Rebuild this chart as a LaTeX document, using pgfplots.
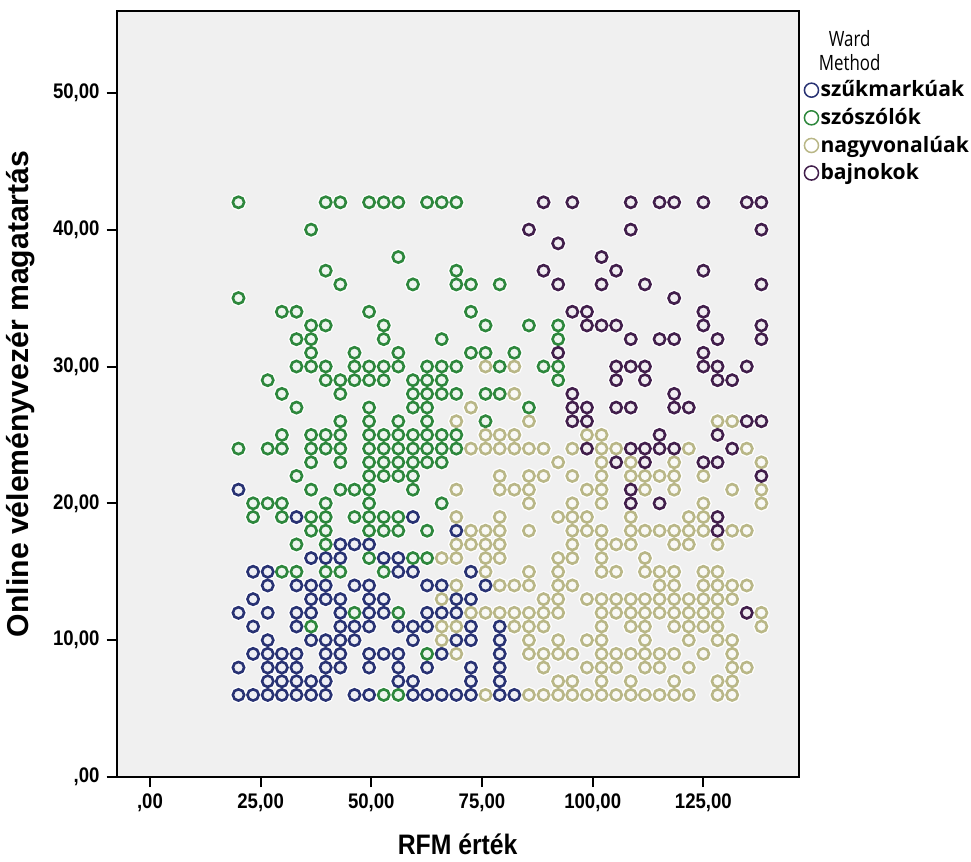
\documentclass[border=0pt]{standalone}
\usepackage{fontspec}
\setmainfont{Liberation Sans}
\newfontfamily\axfont{Liberation Sans}[FakeStretch=0.88]
\newfontfamily\legfont{Open Sans}
\newfontfamily\titfont{Open Sans}[FakeStretch=0.8]
\usepackage{pgfplots}
\usepackage{pgfplotstable}
\pgfplotsset{compat=1.18}

\definecolor{cNavy}{RGB}{40,50,115}
\definecolor{cGreen}{RGB}{45,135,60}
\definecolor{cBeige}{RGB}{185,183,135}
\definecolor{cPurple}{RGB}{65,30,75}
\definecolor{cBg}{RGB}{240,240,240}

% Ward clusters: RFM value (x), online opinion-leader score (y)
\pgfplotstableread[row sep=\\]{
x y\\
20.0 21\\
33.1 19\\ 59.4 19\\
69.2 18\\
43.0 17\\ 46.2 17\\ 49.5 17\\
36.4 16\\ 39.7 16\\ 43.0 16\\ 52.8 16\\ 56.1 16\\
23.3 15\\ 26.6 15\\ 56.1 15\\ 59.4 15\\ 72.5 15\\
26.6 14\\ 33.1 14\\ 36.4 14\\ 39.7 14\\ 46.2 14\\ 49.5 14\\ 62.6 14\\ 65.9 14\\ 75.8 14\\
23.3 13\\ 36.4 13\\ 39.7 13\\ 43.0 13\\ 49.5 13\\ 52.8 13\\ 69.2 13\\ 72.5 13\\
20.0 12\\ 26.6 12\\ 33.1 12\\ 36.4 12\\ 43.0 12\\ 49.5 12\\ 52.8 12\\ 62.6 12\\ 65.9 12\\ 69.2 12\\
23.3 11\\ 33.1 11\\ 43.0 11\\ 46.2 11\\ 49.5 11\\ 56.1 11\\ 59.4 11\\ 62.6 11\\ 72.5 11\\ 79.0 11\\
26.6 10\\ 36.4 10\\ 39.7 10\\ 43.0 10\\ 46.2 10\\ 59.4 10\\ 69.2 10\\ 72.5 10\\ 79.0 10\\
23.3 9\\ 26.6 9\\ 29.8 9\\ 33.1 9\\ 39.7 9\\ 43.0 9\\ 49.5 9\\ 52.8 9\\ 56.1 9\\ 65.9 9\\ 79.0 9\\
20.0 8\\ 26.6 8\\ 29.8 8\\ 33.1 8\\ 39.7 8\\ 43.0 8\\ 49.5 8\\ 56.1 8\\ 62.6 8\\ 72.5 8\\ 79.0 8\\
26.6 7\\ 29.8 7\\ 33.1 7\\ 36.4 7\\ 39.7 7\\ 56.1 7\\ 59.4 7\\ 72.5 7\\ 79.0 7\\
20.0 6\\ 23.3 6\\ 26.6 6\\ 29.8 6\\ 33.1 6\\ 36.4 6\\ 39.7 6\\ 46.2 6\\ 49.5 6\\ 59.4 6\\ 62.6 6\\ 65.9 6\\ 69.2 6\\ 72.5 6\\ 79.0 6\\ 82.3 6\\
}\navyT

\pgfplotstableread[row sep=\\]{
x y\\
20.0 42\\ 39.7 42\\ 43.0 42\\ 49.5 42\\ 52.8 42\\ 56.1 42\\ 62.6 42\\ 65.9 42\\ 69.2 42\\
36.4 40\\
56.1 38\\
39.7 37\\ 69.2 37\\
43.0 36\\ 59.4 36\\ 69.2 36\\ 72.5 36\\ 79.0 36\\
20.0 35\\
29.8 34\\ 33.1 34\\ 49.5 34\\ 72.5 34\\
36.4 33\\ 39.7 33\\ 52.8 33\\ 75.8 33\\ 85.6 33\\ 92.2 33\\
33.1 32\\ 36.4 32\\ 52.8 32\\ 65.9 32\\ 92.2 32\\
36.4 31\\ 46.2 31\\ 56.1 31\\ 72.5 31\\ 75.8 31\\ 82.3 31\\
33.1 30\\ 36.4 30\\ 39.7 30\\ 46.2 30\\ 49.5 30\\ 52.8 30\\ 56.1 30\\ 62.6 30\\ 65.9 30\\ 69.2 30\\ 79.0 30\\ 88.9 30\\ 92.2 30\\
26.6 29\\ 39.7 29\\ 43.0 29\\ 46.2 29\\ 49.5 29\\ 52.8 29\\ 59.4 29\\ 62.6 29\\ 65.9 29\\ 92.2 29\\
29.8 28\\ 43.0 28\\ 59.4 28\\ 62.6 28\\ 65.9 28\\ 69.2 28\\ 75.8 28\\ 79.0 28\\
33.1 27\\ 49.5 27\\ 59.4 27\\ 62.6 27\\ 85.6 27\\
43.0 26\\ 49.5 26\\ 56.1 26\\ 62.6 26\\ 75.8 26\\
29.8 25\\ 36.4 25\\ 39.7 25\\ 43.0 25\\ 49.5 25\\ 52.8 25\\ 56.1 25\\ 59.4 25\\ 62.6 25\\ 65.9 25\\ 69.2 25\\
20.0 24\\ 26.6 24\\ 29.8 24\\ 36.4 24\\ 39.7 24\\ 43.0 24\\ 49.5 24\\ 52.8 24\\ 56.1 24\\ 59.4 24\\ 62.6 24\\ 65.9 24\\ 69.2 24\\
36.4 23\\ 43.0 23\\ 49.5 23\\ 52.8 23\\ 56.1 23\\ 59.4 23\\ 62.6 23\\ 65.9 23\\
33.1 22\\ 49.5 22\\ 52.8 22\\ 56.1 22\\ 59.4 22\\
36.4 21\\ 43.0 21\\ 46.2 21\\ 49.5 21\\ 59.4 21\\
23.3 20\\ 26.6 20\\ 29.8 20\\ 39.7 20\\ 49.5 20\\ 65.9 20\\
23.3 19\\ 29.8 19\\ 36.4 19\\ 39.7 19\\ 46.2 19\\ 49.5 19\\ 52.8 19\\ 56.1 19\\
36.4 18\\ 39.7 18\\ 49.5 18\\ 52.8 18\\ 56.1 18\\ 62.6 18\\
33.1 17\\ 39.7 17\\
49.5 16\\ 59.4 16\\ 62.6 16\\
29.8 15\\ 33.1 15\\ 39.7 15\\ 43.0 15\\ 52.8 15\\
46.2 12\\ 56.1 12\\
36.4 11\\
62.6 9\\
52.8 6\\ 56.1 6\\
}\greenT

\pgfplotstableread[row sep=\\]{
x y\\
75.8 30\\ 82.3 30\\
82.3 28\\
72.5 27\\
69.2 26\\ 85.6 26\\ 128.2 26\\ 131.5 26\\
75.8 25\\ 79.0 25\\ 82.3 25\\ 98.7 25\\ 102.0 25\\
72.5 24\\ 75.8 24\\ 79.0 24\\ 82.3 24\\ 85.6 24\\ 88.9 24\\ 95.4 24\\ 102.0 24\\ 105.3 24\\ 121.7 24\\ 134.8 24\\
92.2 23\\ 102.0 23\\ 108.6 23\\ 118.4 23\\ 138.1 23\\
79.0 22\\ 85.6 22\\ 88.9 22\\ 95.4 22\\ 102.0 22\\ 108.6 22\\ 111.8 22\\ 115.1 22\\ 118.4 22\\ 125.0 22\\
69.2 21\\ 79.0 21\\ 82.3 21\\ 85.6 21\\ 98.7 21\\ 102.0 21\\ 111.8 21\\ 118.4 21\\ 131.5 21\\ 138.1 21\\
85.6 20\\ 95.4 20\\ 102.0 20\\ 125.0 20\\ 138.1 20\\
69.2 19\\ 79.0 19\\ 92.2 19\\ 95.4 19\\ 98.7 19\\ 108.6 19\\ 121.7 19\\ 125.0 19\\
72.5 18\\ 75.8 18\\ 79.0 18\\ 85.6 18\\ 95.4 18\\ 98.7 18\\ 102.0 18\\ 108.6 18\\ 111.8 18\\ 115.1 18\\ 118.4 18\\ 121.7 18\\ 125.0 18\\ 131.5 18\\ 134.8 18\\
69.2 17\\ 72.5 17\\ 75.8 17\\ 79.0 17\\ 95.4 17\\ 102.0 17\\ 105.3 17\\ 108.6 17\\ 118.4 17\\ 121.7 17\\ 128.2 17\\
65.9 16\\ 69.2 16\\ 75.8 16\\ 79.0 16\\ 92.2 16\\ 95.4 16\\ 102.0 16\\ 111.8 16\\
75.8 15\\ 85.6 15\\ 92.2 15\\ 102.0 15\\ 105.3 15\\ 111.8 15\\ 115.1 15\\ 118.4 15\\ 125.0 15\\ 128.2 15\\
69.2 14\\ 79.0 14\\ 82.3 14\\ 85.6 14\\ 92.2 14\\ 95.4 14\\ 115.1 14\\ 118.4 14\\ 125.0 14\\ 128.2 14\\ 131.5 14\\ 134.8 14\\
65.9 13\\ 88.9 13\\ 92.2 13\\ 98.7 13\\ 102.0 13\\ 105.3 13\\ 108.6 13\\ 111.8 13\\ 115.1 13\\ 118.4 13\\ 121.7 13\\ 125.0 13\\ 128.2 13\\ 131.5 13\\
72.5 12\\ 75.8 12\\ 79.0 12\\ 82.3 12\\ 85.6 12\\ 88.9 12\\ 92.2 12\\ 102.0 12\\ 105.3 12\\ 108.6 12\\ 111.8 12\\ 115.1 12\\ 118.4 12\\ 121.7 12\\ 125.0 12\\ 128.2 12\\ 138.1 12\\
65.9 11\\ 69.2 11\\ 82.3 11\\ 85.6 11\\ 88.9 11\\ 102.0 11\\ 108.6 11\\ 111.8 11\\ 118.4 11\\ 121.7 11\\ 125.0 11\\ 128.2 11\\ 138.1 11\\
65.9 10\\ 85.6 10\\ 92.2 10\\ 98.7 10\\ 102.0 10\\ 111.8 10\\ 121.7 10\\ 128.2 10\\ 131.5 10\\
69.2 9\\ 85.6 9\\ 88.9 9\\ 92.2 9\\ 95.4 9\\ 102.0 9\\ 105.3 9\\ 108.6 9\\ 111.8 9\\ 115.1 9\\ 118.4 9\\ 125.0 9\\ 131.5 9\\
88.9 8\\ 98.7 8\\ 102.0 8\\ 105.3 8\\ 111.8 8\\ 115.1 8\\ 121.7 8\\ 131.5 8\\ 134.8 8\\
92.2 7\\ 95.4 7\\ 102.0 7\\ 108.6 7\\ 118.4 7\\ 128.2 7\\ 131.5 7\\
75.8 6\\ 85.6 6\\ 88.9 6\\ 92.2 6\\ 95.4 6\\ 98.7 6\\ 102.0 6\\ 105.3 6\\ 108.6 6\\ 111.8 6\\ 115.1 6\\ 118.4 6\\ 121.7 6\\ 128.2 6\\ 131.5 6\\
}\beigeT

\pgfplotstableread[row sep=\\]{
x y\\
88.9 42\\ 95.4 42\\ 108.6 42\\ 115.1 42\\ 118.4 42\\ 125.0 42\\ 134.8 42\\ 138.1 42\\
85.6 40\\ 108.6 40\\ 138.1 40\\
92.2 39\\
102.0 38\\
88.9 37\\ 105.3 37\\ 125.0 37\\
92.2 36\\ 102.0 36\\ 111.8 36\\ 138.1 36\\
118.4 35\\
95.4 34\\ 98.7 34\\ 125.0 34\\
98.7 33\\ 102.0 33\\ 105.3 33\\ 125.0 33\\ 138.1 33\\
108.6 32\\ 115.1 32\\ 118.4 32\\ 128.2 32\\ 138.1 32\\
92.2 31\\ 125.0 31\\
105.3 30\\ 108.6 30\\ 111.8 30\\ 125.0 30\\ 128.2 30\\ 134.8 30\\
105.3 29\\ 111.8 29\\ 128.2 29\\ 131.5 29\\
95.4 28\\ 118.4 28\\
95.4 27\\ 98.7 27\\ 105.3 27\\ 108.6 27\\ 118.4 27\\ 121.7 27\\
95.4 26\\ 98.7 26\\ 134.8 26\\ 138.1 26\\
115.1 25\\ 128.2 25\\
98.7 24\\ 108.6 24\\ 111.8 24\\ 115.1 24\\ 118.4 24\\ 131.5 24\\
105.3 23\\ 111.8 23\\ 125.0 23\\ 128.2 23\\
138.1 22\\
108.6 21\\
108.6 20\\ 115.1 20\\
128.2 19\\
128.2 18\\
134.8 12\\
}\purpleT

\pgfplotsset{
  halo/.style={only marks, mark=*, mark size=2.8pt, draw=white, fill=white, line width=2.6pt, forget plot},
  dots/.style={only marks, mark=*, mark size=2.8pt, line width=1.3pt, draw=#1, fill=#1!8!white},
}

\begin{document}
\begin{tikzpicture}
\begin{axis}[
  scale only axis, width=339pt, height=381pt,
  xmin=-7.5, xmax=146.5, ymin=0, ymax=56,
  clip mode=individual,
  axis background/.style={fill=cBg},
  axis line style={line width=1pt},
  tick align=outside, tick pos=left,
  major tick length=5pt,
  every tick/.style={black, line width=1pt},
  xtick={0,25,50,75,100,125},
  xticklabels={{,00},{25,00},{50,00},{75,00},{100,00},{125,00}},
  ytick={0,10,20,30,40,50},
  yticklabels={{,00},{10,00},{20,00},{30,00},{40,00},{50,00}},
  tick label style={font=\axfont\bfseries\fontsize{10.5}{12}\selectfont},
  xlabel={RFM érték},
  ylabel={Online véleményvezér magatartás},
  xlabel style={font=\axfont\bfseries\fontsize{14}{16}\selectfont, yshift=-4pt},
  ylabel style={font=\bfseries\fontsize{15}{17}\selectfont, yshift=2pt},
  legend style={at={(rel axis cs:1.008,0.912)}, anchor=north west,
    draw=none, fill=none, inner sep=0pt, row sep=2.2pt,
    font=\legfont\bfseries\fontsize{10.5}{13}\selectfont,
    nodes={inner sep=1pt, anchor=west}},
  legend cell align=left,
  legend image code/.code={\draw[mark=o, mark size=3.5pt, line width=0.75pt, mark repeat=2, mark phase=2]
    plot coordinates {(0cm,0cm) (0.12cm,0cm) (0.24cm,0cm)};},
]
\addplot[halo] table {\navyT};
\addplot[halo] table {\greenT};
\addplot[halo] table {\beigeT};
\addplot[halo] table {\purpleT};

\addplot[dots=cNavy] table {\navyT};
\addlegendentry{szűkmarkúak}
\addplot[dots=cGreen] table {\greenT};
\addlegendentry{szószólók}
\addplot[dots=cBeige] table {\beigeT};
\addlegendentry{nagyvonalúak}
\addplot[dots=cPurple] table {\purpleT};
\addlegendentry{bajnokok}

\node[font=\titfont\fontsize{10.5}{11.5}\selectfont, align=center, anchor=north]
  at (rel axis cs:1.075,0.983) {Ward\\Method};
\path (rel axis cs:0,1.014);
\end{axis}
\end{tikzpicture}
\end{document}
